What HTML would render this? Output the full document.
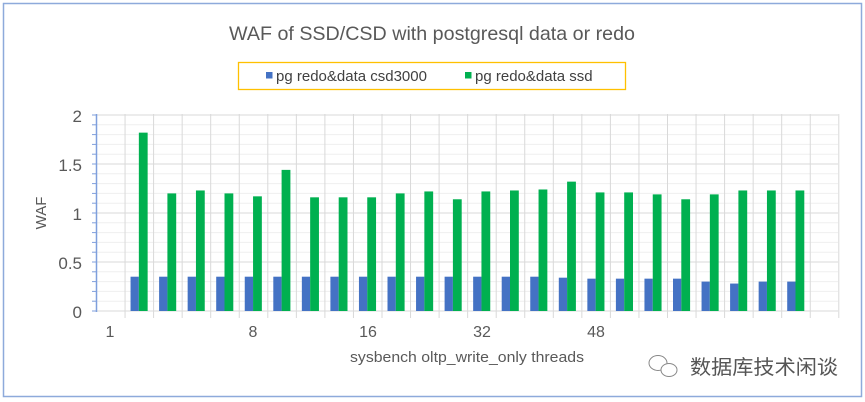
<!DOCTYPE html>
<html><head><meta charset="utf-8"><style>
html,body{margin:0;padding:0;background:#fff;}
svg{display:block;font-family:"Liberation Sans","Noto Sans CJK SC",sans-serif;}
</style></head><body>
<svg id="c" width="865" height="402" viewBox="0 0 865 402" xmlns="http://www.w3.org/2000/svg">
<rect x="0" y="0" width="865" height="402" fill="#fff"/>
<rect x="3.5" y="3.5" width="858" height="393" fill="#fff" stroke="#8eaadb" stroke-width="1.5"/>
<text x="432" y="40" font-size="19.5" fill="#595959" text-anchor="middle" textLength="406" lengthAdjust="spacingAndGlyphs">WAF of SSD/CSD with postgresql data or redo</text>
<rect x="238.5" y="62.5" width="387" height="27" fill="#fff" stroke="#ffc000" stroke-width="1.3"/>
<rect x="266" y="72" width="6.5" height="6.5" fill="#4472c4"/>
<text x="276" y="81" font-size="15" fill="#404040">pg redo&amp;data csd3000</text>
<rect x="465" y="72" width="6.5" height="6.5" fill="#00b050"/>
<text x="475" y="81" font-size="15" fill="#404040">pg redo&amp;data ssd</text>
<g id="grid"></g>
<g id="bars"></g>
<line x1="96.5" y1="114" x2="96.5" y2="312" stroke="#7f9fdc" stroke-width="1.5"/>
<g id="ticks"></g>
<g font-size="17" fill="#595959" text-anchor="end">
<text x="82" y="122">2</text>
<text x="82" y="171">1.5</text>
<text x="82" y="220">1</text>
<text x="82" y="269">0.5</text>
<text x="82" y="318">0</text>
</g>
<text transform="translate(46,213) rotate(-90)" font-size="15" fill="#595959" text-anchor="middle">WAF</text>
<g font-size="16" fill="#595959" text-anchor="middle">
<text x="110" y="337">1</text>
<text x="253" y="337">8</text>
<text x="368" y="337">16</text>
<text x="482" y="337">32</text>
<text x="596" y="337">48</text>
</g>
<text x="467" y="362" font-size="15" fill="#595959" text-anchor="middle" textLength="234" lengthAdjust="spacingAndGlyphs">sysbench oltp_write_only threads</text>
<g fill="none" stroke="#888" stroke-width="1">
<ellipse cx="658" cy="363" rx="9" ry="7.5"/>
<ellipse cx="669" cy="370" rx="8" ry="6.5" fill="#fff"/>
</g>
<text x="690" y="374" font-size="20" fill="#555" font-family="'Noto Sans CJK SC',sans-serif" textLength="148" lengthAdjust="spacingAndGlyphs">数据库技术闲谈</text>
</svg>
<script>
var NS="http://www.w3.org/2000/svg";
function el(p,t,a){var e=document.createElementNS(NS,t);for(var k in a)e.setAttribute(k,a[k]);document.getElementById(p).appendChild(e);}
var x0=96.5,cw=28.55,yb=311,sc=98;
for(var i=1;i<=20;i++){var y=yb-i*0.1*sc;el("grid","line",{x1:x0,x2:838,y1:y,y2:y,stroke:(i%5==0)?"#d9d9d9":"#efefef","stroke-width":1});}
for(var j=1;j<=26;j++){var x=x0+j*cw;el("grid","line",{x1:x,x2:x,y1:114,y2:318,stroke:"#d9d9d9","stroke-width":1});}
el("grid","line",{x1:x0,x2:838,y1:yb,y2:yb,stroke:"#d9d9d9","stroke-width":1});
for(var i=0;i<=20;i++){var y=yb-i*0.1*sc;el("ticks","line",{x1:92,x2:97,y1:y,y2:y,stroke:"#7f9fdc","stroke-width":1});}
var g=[1.82,1.2,1.23,1.2,1.17,1.44,1.16,1.16,1.16,1.2,1.22,1.14,1.22,1.23,1.24,1.32,1.21,1.21,1.19,1.14,1.19,1.23,1.23,1.23];
var b=[0.35,0.35,0.35,0.35,0.35,0.35,0.35,0.35,0.35,0.35,0.35,0.35,0.35,0.35,0.35,0.34,0.33,0.33,0.33,0.33,0.30,0.28,0.30,0.30];
for(var k=0;k<24;k++){var cx=x0+(k+1)*cw;
el("bars","rect",{x:cx+5.5,y:yb-b[k]*sc,width:8.3,height:b[k]*sc,fill:"#4472c4"});
el("bars","rect",{x:cx+13.8,y:yb-g[k]*sc,width:8.8,height:g[k]*sc,fill:"#00b050"});}
</script>
</body></html>
